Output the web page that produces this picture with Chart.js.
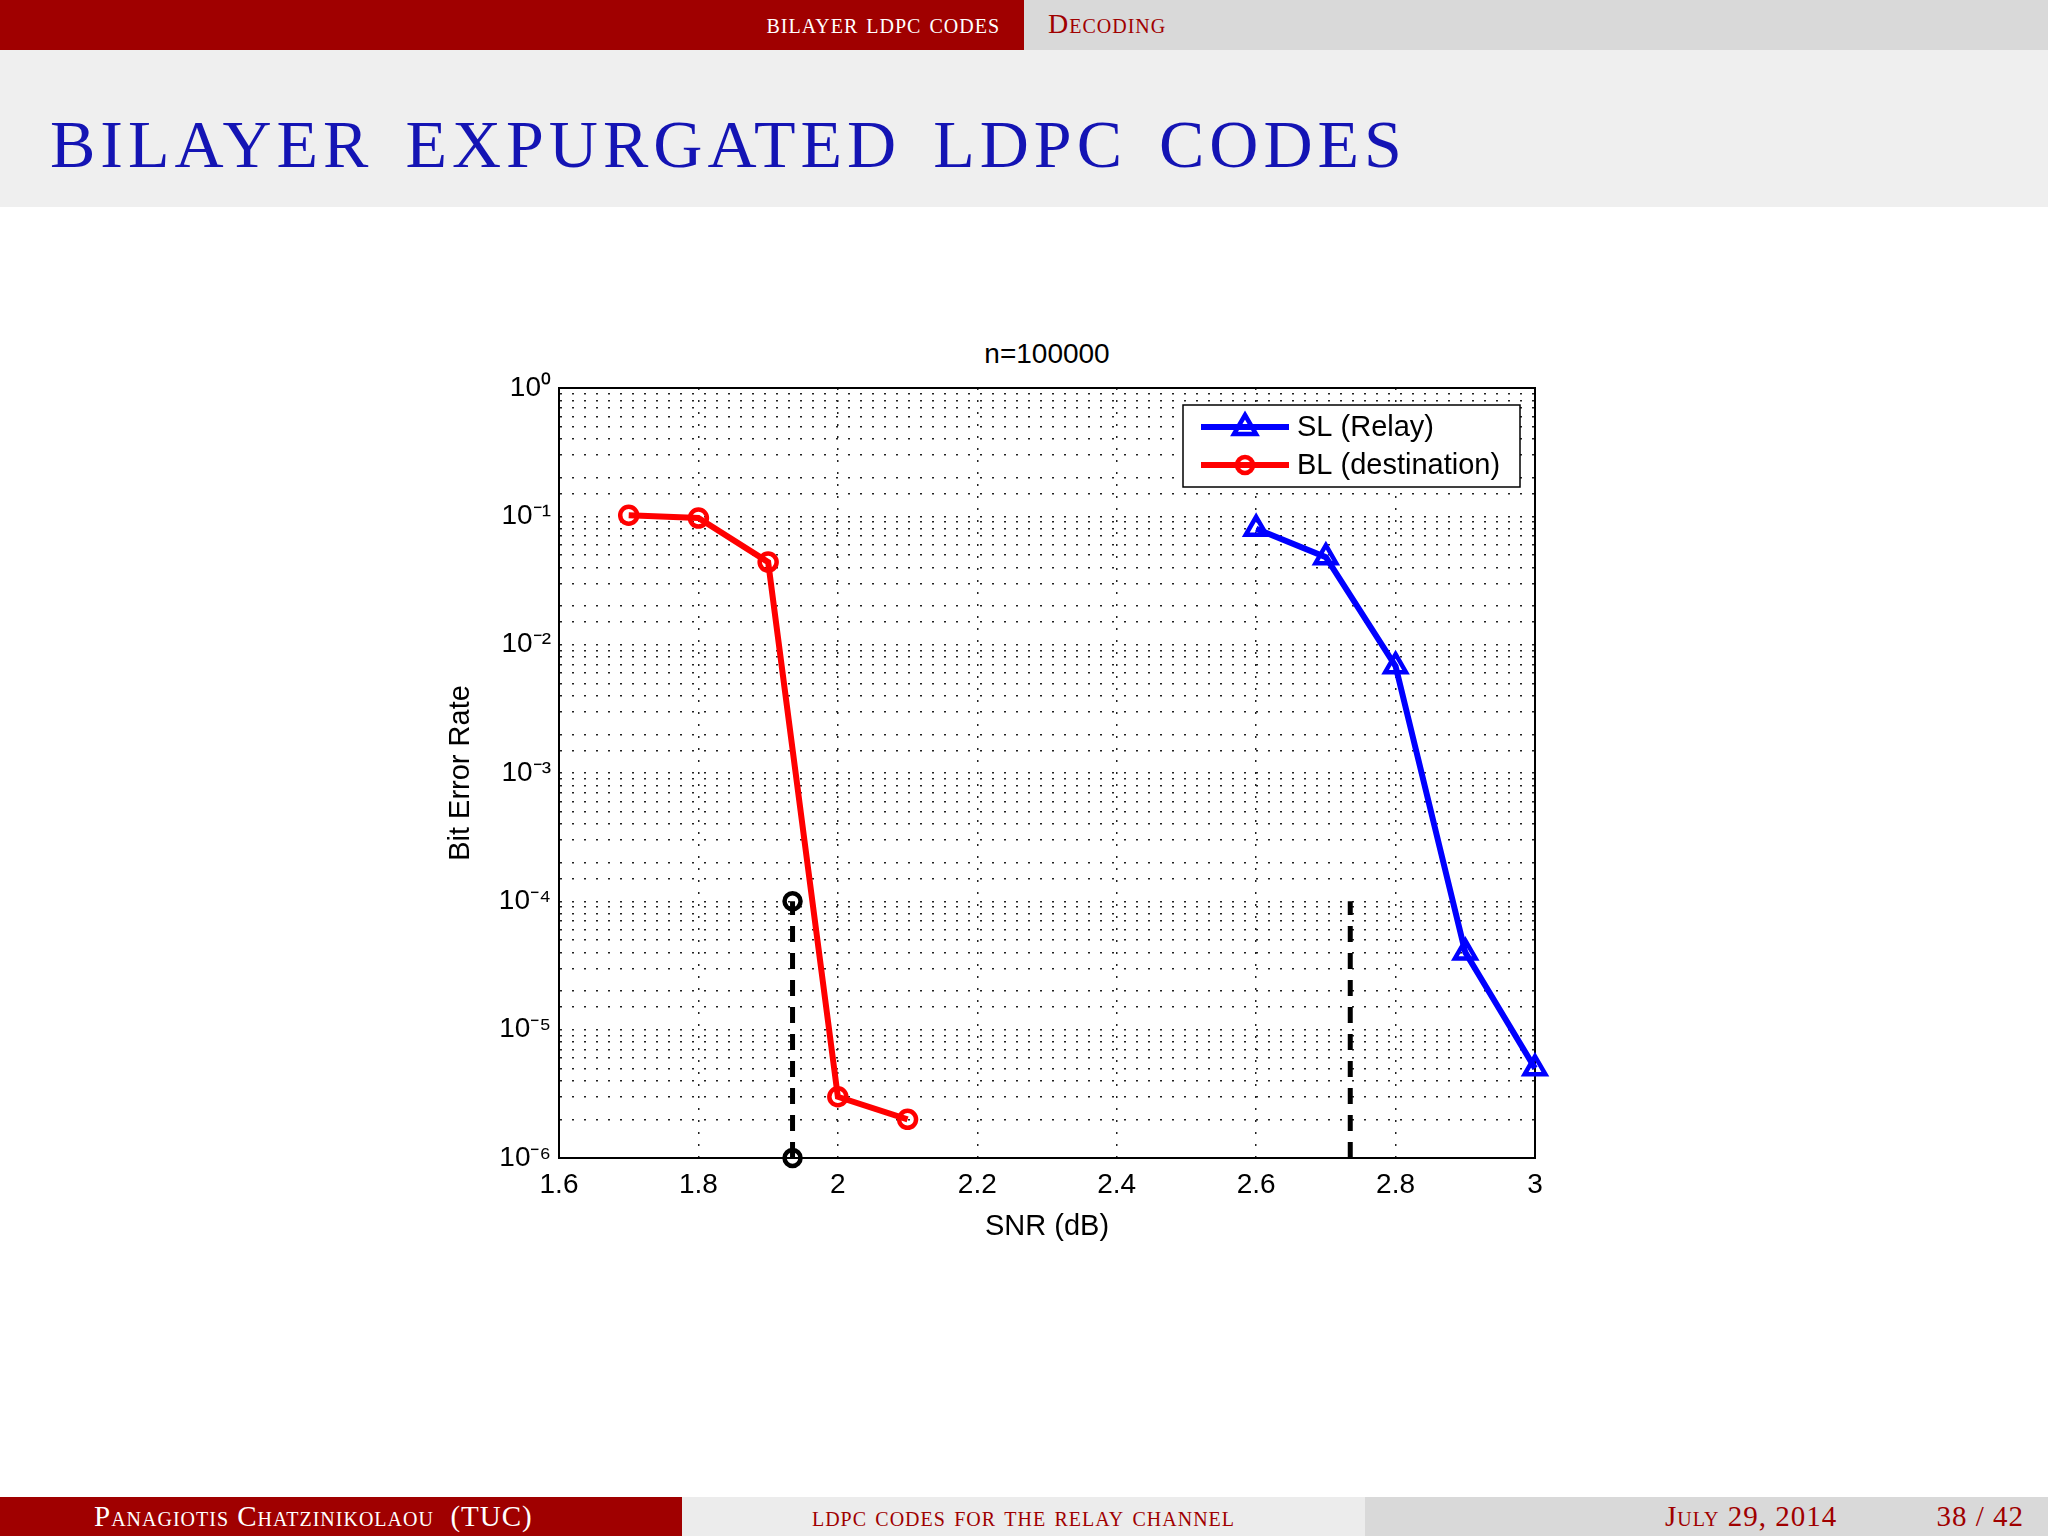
<!DOCTYPE html>
<html>
<head>
<meta charset="utf-8">
<script src="https://cdn.jsdelivr.net/npm/chart.js@4"></script>
<style>
body { margin: 0; width: 2048px; height: 1536px; position: relative; background: #fff; overflow: hidden; font-family: "Liberation Serif", serif; }
.hdr { position: absolute; top: 0; height: 50px; font-variant: small-caps; font-size: 28px; line-height: 48px; letter-spacing: 1px; }
.band { position: absolute; top: 50px; left: 0; width: 2048px; height: 157px; background: #efefef; }
.band h1 { margin: 0; position: absolute; left: 50px; top: 94px; font-weight: normal; color: #1414b4; font-size: 68px; letter-spacing: 5px; word-spacing: 10px; line-height: 68px; transform: translateY(-50%); }
.ftr { position: absolute; top: 1497px; height: 39px; font-variant: small-caps; font-size: 29px; line-height: 38px; letter-spacing: 1px; }
#ttl { position: absolute; left: 0; width: 2094px; top: 338px; text-align: center; font-family: "Liberation Sans", sans-serif; font-size: 28px; }
#wrap { position: absolute; left: 440px; top: 330px; width: 1120px; height: 918px; }
</style>
</head>
<body>
<div class="hdr" style="left:0;width:1024px;background:#a00000;color:#fff;text-align:right;"><span style="padding-right:24px">bilayer ldpc codes</span></div>
<div class="hdr" style="left:1024px;width:1024px;background:#d9d9d9;color:#a00000;"><span style="padding-left:24px">Decoding</span></div>
<div class="band"><h1>BILAYER EXPURGATED LDPC CODES</h1></div>
<div class="ftr" style="left:0;width:682px;background:#a00000;color:#fff;"><span style="padding-left:94px">Panagiotis Chatzinikolaou&nbsp; (TUC)</span></div>
<div class="ftr" style="left:682px;width:683px;background:#ececec;color:#a00000;text-align:center;">ldpc codes for the relay channel</div>
<div class="ftr" style="left:1365px;width:683px;background:#d9d9d9;color:#a00000;"><span style="position:absolute;left:300px">July 29, 2014</span><span style="position:absolute;right:24px">38 / 42</span></div>
<div id="ttl">n=100000</div>
<div id="wrap"><canvas id="c"></canvas></div>
<script>
const slSnr = [2.6, 2.7, 2.8, 2.9, 3.0];
const slBer = [0.08, 0.048, 0.0068, 0.00004, 0.000005];
const blSnr = [1.7, 1.8, 1.9, 2.0, 2.1];
const blBer = [0.102, 0.097, 0.044, 0.000003, 0.000002];
const mark1 = [[1.935, 0.000001], [1.935, 0.0001]];
const mark2 = [[2.735, 0.000001], [2.735, 0.0001]];
const supers = { '-': '\u207B', '0': '\u2070', '1': '\u00B9', '2': '\u00B2', '3': '\u00B3', '4': '\u2074', '5': '\u2075', '6': '\u2076' };

const pts = (xs, ys) => xs.map((x, i) => ({ x: x, y: ys[i] }));

const legendBox = {
    id: 'legendBox',
    afterDraw(chart) {
        const ctx = chart.ctx, a = chart.chartArea;
        const x0 = a.right - 352, y0 = a.top + 17, w = 337, h = 82;
        ctx.save();
        ctx.fillStyle = '#fff';
        ctx.fillRect(x0, y0, w, h);
        ctx.strokeStyle = '#000'; ctx.lineWidth = 1.5;
        ctx.strokeRect(x0, y0, w, h);
        const rows = [['SL (Relay)', '#0000ff', 'tri'], ['BL (destination)', '#ff0000', 'circ']];
        rows.forEach((r, i) => {
            const yy = y0 + 22 + i * 38;
            ctx.strokeStyle = r[1]; ctx.lineWidth = 6;
            ctx.beginPath(); ctx.moveTo(x0 + 18, yy); ctx.lineTo(x0 + 106, yy); ctx.stroke();
            ctx.lineWidth = 4.5;
            ctx.beginPath();
            if (r[2] === 'tri') { ctx.moveTo(x0 + 62, yy - 12); ctx.lineTo(x0 + 73, yy + 7); ctx.lineTo(x0 + 51, yy + 7); ctx.closePath(); }
            else ctx.arc(x0 + 62, yy, 8, 0, Math.PI * 2);
            ctx.stroke();
            ctx.fillStyle = '#000'; ctx.font = '29px "Liberation Sans"'; ctx.textBaseline = 'middle';
            ctx.fillText(r[0], x0 + 114, yy + 1);
        });
        ctx.restore();
    }
};

new Chart(document.getElementById('c').getContext('2d'), {
    type: 'line',
    data: {
        datasets: [
            { label: 'SL (Relay)', data: pts(slSnr, slBer), borderColor: '#0000ff', borderWidth: 6, pointStyle: 'triangle', pointRadius: 12, pointBorderWidth: 4.5, pointBackgroundColor: 'rgba(0,0,0,0)', pointBorderColor: '#0000ff' },
            { label: 'BL (destination)', data: pts(blSnr, blBer), borderColor: '#ff0000', borderWidth: 6, pointStyle: 'circle', pointRadius: 8.5, pointBorderWidth: 4.5, pointBackgroundColor: 'rgba(0,0,0,0)', pointBorderColor: '#ff0000' },
            { data: mark1.map(p => ({ x: p[0], y: p[1] })), borderColor: '#000', borderWidth: 5, borderDash: [16, 11], pointRadius: 8, pointBorderWidth: 4.5, pointBackgroundColor: 'rgba(0,0,0,0)', pointBorderColor: '#000' },
            { data: mark2.map(p => ({ x: p[0], y: p[1] })), borderColor: '#000', borderWidth: 5, borderDash: [16, 11], pointRadius: 0 }
        ]
    },
    options: {
        responsive: true,
        maintainAspectRatio: false,
        animation: false,
        clip: false,
        layout: { padding: { top: 58, right: 25, left: 0, bottom: 0 } },
        plugins: { legend: { display: false }, tooltip: { enabled: false } },
        scales: {
            x: {
                type: 'linear', min: 1.6, max: 3.0,
                afterFit: s => { s.height = 90; },
                afterBuildTicks: s => { const t = []; for (let i = 0; i <= 7; i++) t.push({ value: 1.6 + i * 0.2 }); s.ticks = t; },
                ticks: { color: '#000', font: { family: 'Liberation Sans', size: 28 }, maxRotation: 0, autoSkip: false, padding: 10,
                    callback: v => String(+v.toFixed(1)) },
                grid: { color: '#222', lineWidth: 1.5, drawTicks: false },
                border: { color: '#000', width: 2, dash: [2, 10] },
                title: { display: true, text: 'SNR (dB)', color: '#000', font: { family: 'Liberation Sans', size: 29 }, padding: { top: 0 } }
            },
            y: {
                type: 'logarithmic', min: 1e-6, max: 1,
                afterFit: s => { s.width = 119; },
                ticks: { color: '#000', font: { family: 'Liberation Sans', size: 28 }, autoSkip: false, padding: 8,
                    callback: v => { const e = Math.log10(v); if (Math.abs(e - Math.round(e)) > 1e-9) return ''; return '10' + String(Math.round(e)).split('').map(c => supers[c]).join(''); } },
                grid: { color: '#222', lineWidth: 1.5, drawTicks: false },
                border: { color: '#000', width: 2, dash: [2, 10] },
                title: { display: true, text: 'Bit Error Rate', color: '#000', font: { family: 'Liberation Sans', size: 29 }, padding: { bottom: 2 } }
            }
        }
    },
    plugins: [legendBox, {
        id: 'frame',
        beforeDatasetsDraw(chart) {
            const ctx = chart.ctx, a = chart.chartArea;
            ctx.save(); ctx.strokeStyle = '#000'; ctx.lineWidth = 2;
            ctx.strokeRect(a.left, a.top, a.right - a.left, a.bottom - a.top); ctx.restore();
        }
    }]
});
</script>
</body>
</html>
